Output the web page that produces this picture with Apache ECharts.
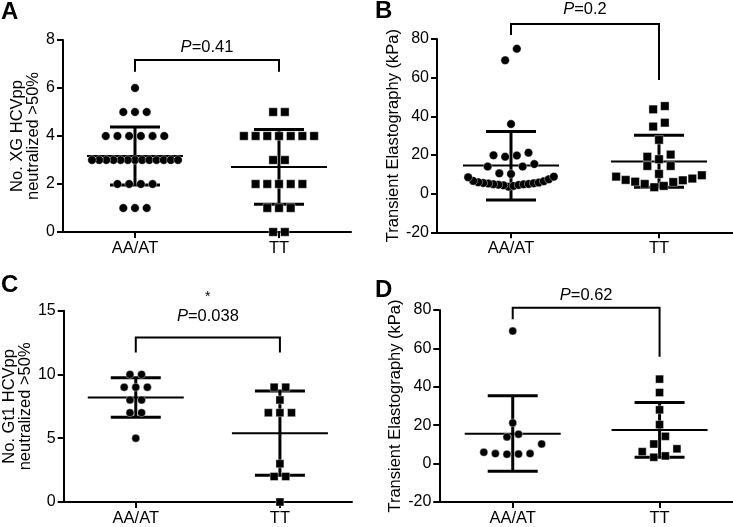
<!DOCTYPE html>
<html><head><meta charset="utf-8">
<script src="https://cdn.jsdelivr.net/npm/echarts@6/dist/echarts.min.js"></script>
<style>html,body{margin:0;padding:0;background:#fff}#c{width:733px;height:527px}</style>
</head><body><div id="c"></div>
<script>
// ---------- data ----------
const categories = ['AA/AT', 'TT'];

// Panel A: No. XG HCVpp neutralized >50%
const aAAAT = [6,5,5,5,4,4,4,4,4,4,3,3,3,3,3,3,3,3,3,3,3,3,3,2,2,2,2,1,1,1];
const aTT   = [5,5,4,4,4,4,4,4,4,3,3,2,2,2,2,2,1,1,1,0,0];
const aMean = [3.17, 2.71];
const aSdLow = [1.96, 1.16];
const aSdHigh = [4.37, 4.27];

// Panel B: Transient Elastography (kPa)
const bAAAT = [75,69,36,21.2,19.8,19.7,19.1,15.3,14,14,10.5,10.2,
               8.8,8.5,7.4,6.6,6.4,5.9,5.7,5.5,5.4,5.2,5.0,4.9,4.8,4.6,4.5,4.3,4.0,3.6];
const bTT   = [45.3,43.6,36.7,34.7,27.8,20.2,19.1,17.8,14.3,14.3,10.2,
               9.5,8.8,7.8,7.1,6.9,6.2,6.0,5.0,4.0,3.3];
const bMean = [14.5, 16.6];
const bSdLow = [-3.3, 3.3];
const bSdHigh = [32.1, 30.2];

// Panel C: No. Gt1 HCVpp neutralized >50%
const cAAAT = [10,10,9,9,9,8,8,7,7,5];
const cTT   = [9,9,8,7,7,7,3,2,2,0];
const cMean = [8.2, 5.4];
const cSdLow = [6.65, 2.09];
const cSdHigh = [9.75, 8.71];

// Panel D: Transient Elastography (kPa)
const dAAAT = [69,21.2,15.3,13.9,10.2,5.9,5.2,5.2,5.0,4.9];
const dTT   = [44,37,28,20.3,14.2,10.2,7.7,6.2,4.0,3.3];
const dMean = [15.6, 17.5];
const dSdLow = [-4.0, 3.3];
const dSdHigh = [35.4, 31.8];

const pLabels = ['0.41', '0.2', '0.038', '0.62'];
const yTicksA = [0, 8, 2];
const yTicksB = [-20, 80, 20];
const yTicksC = [0, 15, 5];
const yTicksD = [-20, 80, 20];

// ---------- layout ----------
const FONT = '"Liberation Sans", Arial, Helvetica, sans-serif';
const panels = [
  {letter:'A', lx:1, ly:0, grid:{left:63, top:40, width:288, height:192}, ticks:yTicksA,
   name:'No. XG HCVpp\nneutralized >50%', nameGap:21, groups:[aAAAT,aTT], mean:aMean, lo:aSdLow, hi:aSdHigh,
   sym:8.5, p:pLabels[0], br:{bar:7.17, legL:6.68, legR:6.68, text:7.71}},
  {letter:'B', lx:375, ly:-1, grid:{left:437, top:39, width:297, height:193.3}, ticks:yTicksB,
   name:'Transient Elastography (kPa)', nameGap:22, groups:[bAAAT,bTT], mean:bMean, lo:bSdLow, hi:bSdHigh,
   sym:8.5, p:pLabels[1], br:{bar:87.76, legL:82.07, legR:58.8, text:95.5}},
  {letter:'C', lx:1, ly:273, grid:{left:61, top:310.7, width:291, height:192.6}, ticks:yTicksC,
   name:'No. Gt1 HCVpp\nneutralized >50%', nameGap:19, groups:[cAAAT,cTT], mean:cMean, lo:cSdLow, hi:cSdHigh,
   sym:8, p:pLabels[2], star:true, br:{bar:12.9, legL:11.73, legR:11.73, text:14.53, starY:16.05}},
  {letter:'D', lx:375, ly:278, grid:{left:439.3, top:310, width:297, height:194.3}, ticks:yTicksD,
   name:'Transient Elastography (kPa)', nameGap:23, groups:[dAAAT,dTT], mean:dMean, lo:dSdLow, hi:dSdHigh,
   sym:8, p:pLabels[3], br:{bar:81.18, legL:75.2, legR:55.65, text:87.7}}
];

// Prism-like column scatter: bin by value, spread each bin in a row
function swarm(values, pxPerY, pxPerX) {
  const binH = 12.2, step = 11.7, maxW = 86;
  const sorted = values.slice().sort((a,b)=>a-b);
  const bins = []; let cur = null;
  for (const v of sorted) {
    if (!cur || (v - cur[0]) * pxPerY > binH) { cur = [v]; bins.push(cur); } else cur.push(v);
  }
  const out = [];
  for (const b of bins) {
    const n = b.length;
    const s = n > 1 ? Math.min(step, maxW / (n - 1)) : 0;
    const slots = [];
    for (let k = 0; k < n; k++) slots.push((k - (n - 1) / 2) * s);
    slots.sort((p, q) => (Math.abs(p) - Math.abs(q)) || (p - q));
    b.forEach((v, j) => out.push([slots[j] / pxPerX, v]));
  }
  return out;
}

const option = {animation:false, grid:[], xAxis:[], yAxis:[], series:[], graphic:[]};
const black = '#000';

panels.forEach((P, i) => {
  option.grid.push(Object.assign({containLabel:false}, P.grid));
  const [yMin, yMax, yInt] = P.ticks;
  option.xAxis.push({
    type:'category', gridIndex:i, data:categories, boundaryGap:true, position:'bottom',
    axisLine:{show:true, onZero:false, lineStyle:{color:black, width:2}},
    axisTick:{show:true, alignWithLabel:true, length:6, lineStyle:{color:black, width:2}},
    axisLabel:{color:black, fontSize:16.5, fontFamily:FONT, margin:8},
    splitLine:{show:false}
  });
  option.xAxis.push({type:'value', gridIndex:i, min:-0.5, max:1.5, show:false});
  option.yAxis.push({
    type:'value', gridIndex:i, min:yMin, max:yMax, interval:yInt,
    name:P.name, nameLocation:'middle', nameRotate:90, nameGap:P.nameGap,
    nameTextStyle:{color:black, fontSize:16.5, fontFamily:FONT, lineHeight:16},
    axisLine:{show:true, onZero:false, lineStyle:{color:black, width:2}},
    axisTick:{show:true, length:6, lineStyle:{color:black, width:2}},
    axisLabel:{color:black, fontSize:16, fontFamily:FONT, margin:8},
    splitLine:{show:false}
  });
  const pxX = P.grid.width / 2;
  const pxY = P.grid.height / (yMax - yMin);
  const xi = 2*i + 1;

  // error bars: mean line + SD
  option.series.push({
    type:'custom', xAxisIndex:xi, yAxisIndex:i, clip:false, z:2,
    data: categories.map((c, k) => [k, P.mean[k], P.lo[k], P.hi[k]]),
    encode:{x:0, y:[1,2,3]},
    renderItem: (params, api) => {
      const x = api.value(0);
      const pm = api.coord([x, api.value(1)]), pl = api.coord([x, api.value(2)]), ph = api.coord([x, api.value(3)]);
      const mh = 48, ch = 25;
      return {type:'group', children:[
        {type:'line', shape:{x1:pm[0]-mh, y1:pm[1], x2:pm[0]+mh, y2:pm[1]}, style:{stroke:black, lineWidth:2}},
        {type:'line', shape:{x1:pl[0], y1:pl[1], x2:ph[0], y2:ph[1]}, style:{stroke:black, lineWidth:3}},
        {type:'line', shape:{x1:pl[0]-ch, y1:pl[1], x2:pl[0]+ch, y2:pl[1]}, style:{stroke:black, lineWidth:3}},
        {type:'line', shape:{x1:ph[0]-ch, y1:ph[1], x2:ph[0]+ch, y2:ph[1]}, style:{stroke:black, lineWidth:3}}
      ]};
    }
  });

  // points
  P.groups.forEach((vals, k) => {
    option.series.push({
      type:'scatter', xAxisIndex:xi, yAxisIndex:i, z:3,
      symbol: k === 0 ? 'circle' : 'rect', symbolSize:P.sym,
      itemStyle:{color:black, borderColor:'#fff', borderWidth:0.4, opacity:1},
      data: swarm(vals, pxY, pxX).map(d => [k + d[0], d[1]])
    });
  });

  // significance bracket
  const br = P.br;
  option.series.push({
    type:'custom', xAxisIndex:xi, yAxisIndex:i, clip:false, z:4,
    data:[[0, 1]],
    renderItem: (params, api) => {
      const a = api.coord([0, br.bar]), b = api.coord([1, br.bar]);
      const la = api.coord([0, br.legL]), lb = api.coord([1, br.legR]);
      const t = api.coord([0.5, br.text]);
      const kids = [
        {type:'polyline', shape:{points:[[la[0], la[1]], [a[0], a[1]], [b[0], b[1]], [lb[0], lb[1]]]},
         style:{stroke:black, lineWidth:2, fill:null}},
        {type:'text', x:t[0], y:t[1], style:{text:'{i|P}=' + P.p, fill:black, fontSize:16.5, fontFamily:FONT,
          align:'center', verticalAlign:'middle', rich:{i:{fontStyle:'italic', fontSize:16.5, fontFamily:FONT, fill:black}}}}
      ];
      if (P.star) {
        const s = api.coord([0.5, br.starY]);
        kids.push({type:'text', x:s[0], y:s[1], style:{text:'*', fill:black, fontSize:14, fontFamily:FONT, align:'center', verticalAlign:'middle'}});
      }
      return {type:'group', children:kids};
    }
  });

  option.graphic.push({type:'text', left:P.lx, top:P.ly,
    style:{text:P.letter, fill:black, font:'bold 24px ' + FONT}});
});

const chart = echarts.init(document.getElementById('c'), null, {renderer:'canvas'});
chart.setOption(option);
</script></body></html>
